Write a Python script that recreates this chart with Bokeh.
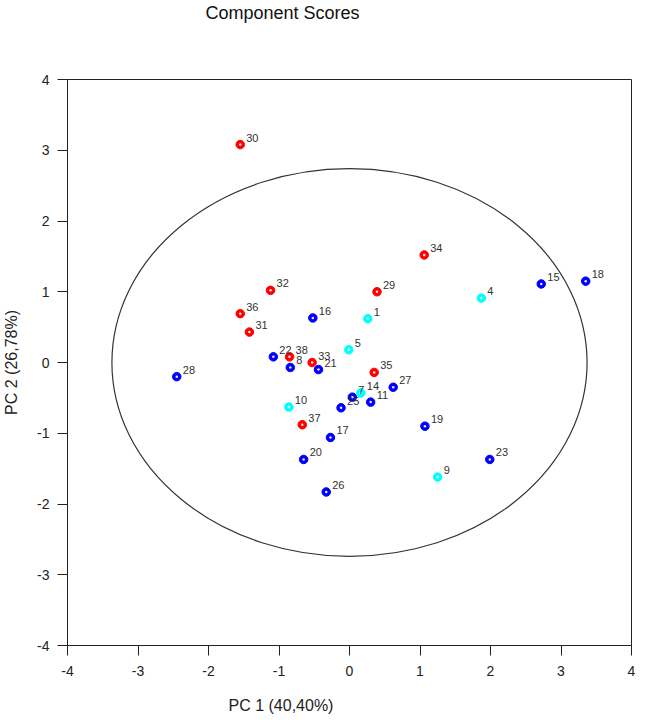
from bokeh.plotting import figure
from bokeh.models import Range1d, Title, FixedTicker, ColumnDataSource
from bokeh.core.properties import value
from bokeh.embed import file_html
from bokeh.resources import INLINE

# ---- data ----
sample_ids = ["1", "4", "5", "7", "8", "9", "10", "11", "14", "15", "16", "17", "18",
              "19", "20", "21", "22", "23", "25", "26", "27", "28", "29", "30", "31",
              "32", "33", "34", "35", "36", "37", "38"]
pc1_scores = [0.26, 1.87, -0.01, 0.04, -0.84, 1.25, -0.86, 0.30, 0.16, 2.72, -0.52, -0.27, 3.35,
              1.07, -0.65, -0.44, -1.08, 1.99, -0.12, -0.33, 0.62, -2.45, 0.39, -1.55, -1.42,
              -1.12, -0.53, 1.06, 0.35, -1.55, -0.67, -0.85]
pc2_scores = [0.62, 0.91, 0.18, -0.49, -0.07, -1.62, -0.63, -0.56, -0.43, 1.11, 0.63, -1.06, 1.15,
              -0.90, -1.37, -0.10, 0.08, -1.37, -0.64, -1.83, -0.35, -0.20, 1.00, 3.08, 0.43,
              1.02, 0.00, 1.52, -0.14, 0.69, -0.88, 0.08]
groups = ["C", "C", "C", "B", "B", "C", "C", "B", "C", "B", "B", "B", "B",
          "B", "B", "B", "B", "B", "B", "B", "B", "B", "A", "A", "A",
          "A", "A", "A", "A", "A", "A", "A"]
group_colors = {"A": "#FF0000", "B": "#0000FF", "C": "#00FFFF"}
axis_ticks = [-4, -3, -2, -1, 0, 1, 2, 3, 4]
ellipse_center = (0.0, 0.0)
ellipse_semi_axes = (3.37, 2.74)
title_text = "Component Scores"
x_label_text = "PC 1 (40,40%)"
y_label_text = "PC 2 (26,78%)"

FONT = "Liberation Sans"

src = ColumnDataSource(dict(
    x=pc1_scores, y=pc2_scores, label=sample_ids,
    color=[group_colors[g] for g in groups],
))

p = figure(frame_width=564, frame_height=566, output_backend="svg", toolbar_location=None,
           x_range=Range1d(-4, 4), y_range=Range1d(-4, 4),
           min_border_left=64, min_border_right=4, min_border_top=76, min_border_bottom=69)
p.title = None
p.grid.visible = False
p.background_fill_color = "white"
p.border_fill_color = "white"
p.outline_line_color = "#222222"
p.outline_line_width = 1

tick_text = {t: str(t) for t in axis_ticks}
for ax in (p.xaxis[0], p.yaxis[0]):
    ax.ticker = FixedTicker(ticks=axis_ticks)
    ax.major_label_overrides = tick_text
    ax.axis_line_color = "#222222"
    ax.major_tick_line_color = "#222222"
    ax.major_tick_out = 10
    ax.major_tick_in = 0
    ax.minor_tick_line_color = None
    ax.major_label_text_font = FONT
    ax.major_label_text_font_size = "14px"
    ax.major_label_text_color = "#222222"
p.xaxis.major_label_standoff = 10
p.yaxis.major_label_standoff = 8

p.yaxis.axis_label = y_label_text
p.yaxis.axis_label_text_font = FONT
p.yaxis.axis_label_text_font_size = "16px"
p.yaxis.axis_label_text_font_style = "normal"
p.yaxis.axis_label_text_color = "#222222"
p.yaxis.axis_label_standoff = 14

# spacer + title above (later panels sit further from the frame)
p.add_layout(Title(text=" ", text_font_size="1px", standoff=54), "above")
p.add_layout(Title(text=title_text, align="left", offset=138, standoff=0,
                   text_font=FONT, text_font_size="18px", text_font_style="normal",
                   text_color="#111111"), "above")
# spacer + x-axis label below
p.add_layout(Title(text=" ", text_font_size="1px", standoff=13), "below")
p.add_layout(Title(text=x_label_text, align="left", offset=161, standoff=0,
                   text_font=FONT, text_font_size="16px", text_font_style="normal",
                   text_color="#222222"), "below")

p.ellipse(x=ellipse_center[0], y=ellipse_center[1],
          width=2 * ellipse_semi_axes[0], height=2 * ellipse_semi_axes[1],
          fill_color=None, line_color="#333333", line_width=1.2)

p.scatter("x", "y", source=src, size=8.5, fill_color="color", line_color="color")
p.scatter("x", "y", source=src, size=2.5, fill_color="white", line_color=None, fill_alpha=0.9)

p.text("x", "y", text="label", source=src, x_offset=6, y_offset=-7,
       text_font=value(FONT), text_font_size="11px", text_color="#333333",
       text_baseline="alphabetic", text_align="left")

open("out.html", "w").write(file_html(p, INLINE))
